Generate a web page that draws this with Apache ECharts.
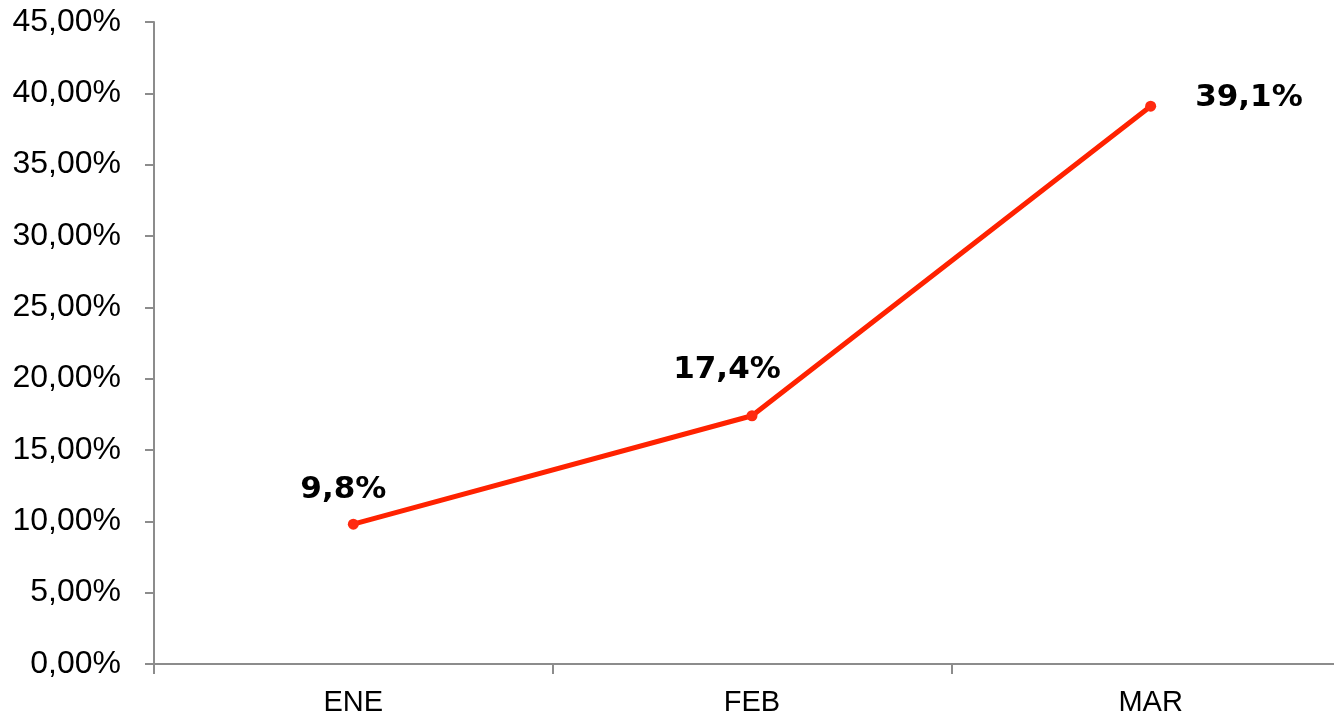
<!DOCTYPE html>
<html><head><meta charset="utf-8">
<script src="https://cdn.jsdelivr.net/npm/echarts@6/dist/echarts.min.js"></script>
<style>html,body{margin:0;padding:0;background:#fff}#c{width:1334px;height:724px}</style>
</head><body><div id="c"></div>
<script>
const categories = ['ENE', 'FEB', 'MAR'];
const values = [9.8, 17.4, 39.1];
const labelTexts = ['9,8%', '17,4%', '39,1%'];
const yTicks = [0, 5, 10, 15, 20, 25, 30, 35, 40, 45];

const labelStyles = [
  { position: 'top', offset: [-10, -8] },
  { position: 'top', offset: [-25, -20] },
  { position: 'right', offset: [34, -8] }
];

const chart = echarts.init(document.getElementById('c'));
chart.setOption({
  animation: false,
  grid: { left: 154, right: -16, top: 22, bottom: 60, outerBoundsMode: 'none', containLabel: false },
  xAxis: {
    type: 'category', data: categories, boundaryGap: true,
    axisLine: { lineStyle: { color: '#8c8c8c', width: 2 } },
    axisTick: { show: true, length: 10, lineStyle: { color: '#8c8c8c', width: 2 } },
    axisLabel: { color: '#000', fontFamily: 'Liberation Sans', fontSize: 29, margin: 24 }
  },
  yAxis: {
    type: 'value', min: yTicks[0], max: yTicks[yTicks.length - 1], interval: 5,
    splitLine: { show: false },
    axisLine: { show: true, lineStyle: { color: '#8c8c8c', width: 2 } },
    axisTick: { show: true, length: 9, lineStyle: { color: '#8c8c8c', width: 2 } },
    axisLabel: { color: '#000', fontFamily: 'Liberation Sans', fontSize: 32, margin: 33,
      formatter: v => v.toFixed(2).replace('.', ',') + '%' }
  },
  series: [{
    type: 'line',
    data: values.map((v, i) => ({
      value: v,
      label: Object.assign({ show: true, formatter: labelTexts[i] }, labelStyles[i])
    })),
    lineStyle: { color: '#ff2200', width: 5 },
    itemStyle: { color: '#ff2a10' },
    symbol: 'circle', symbolSize: 11,
    label: { color: '#000', fontFamily: 'DejaVu Sans', fontWeight: 'bold', fontSize: 31 }
  }]
});
</script></body></html>
